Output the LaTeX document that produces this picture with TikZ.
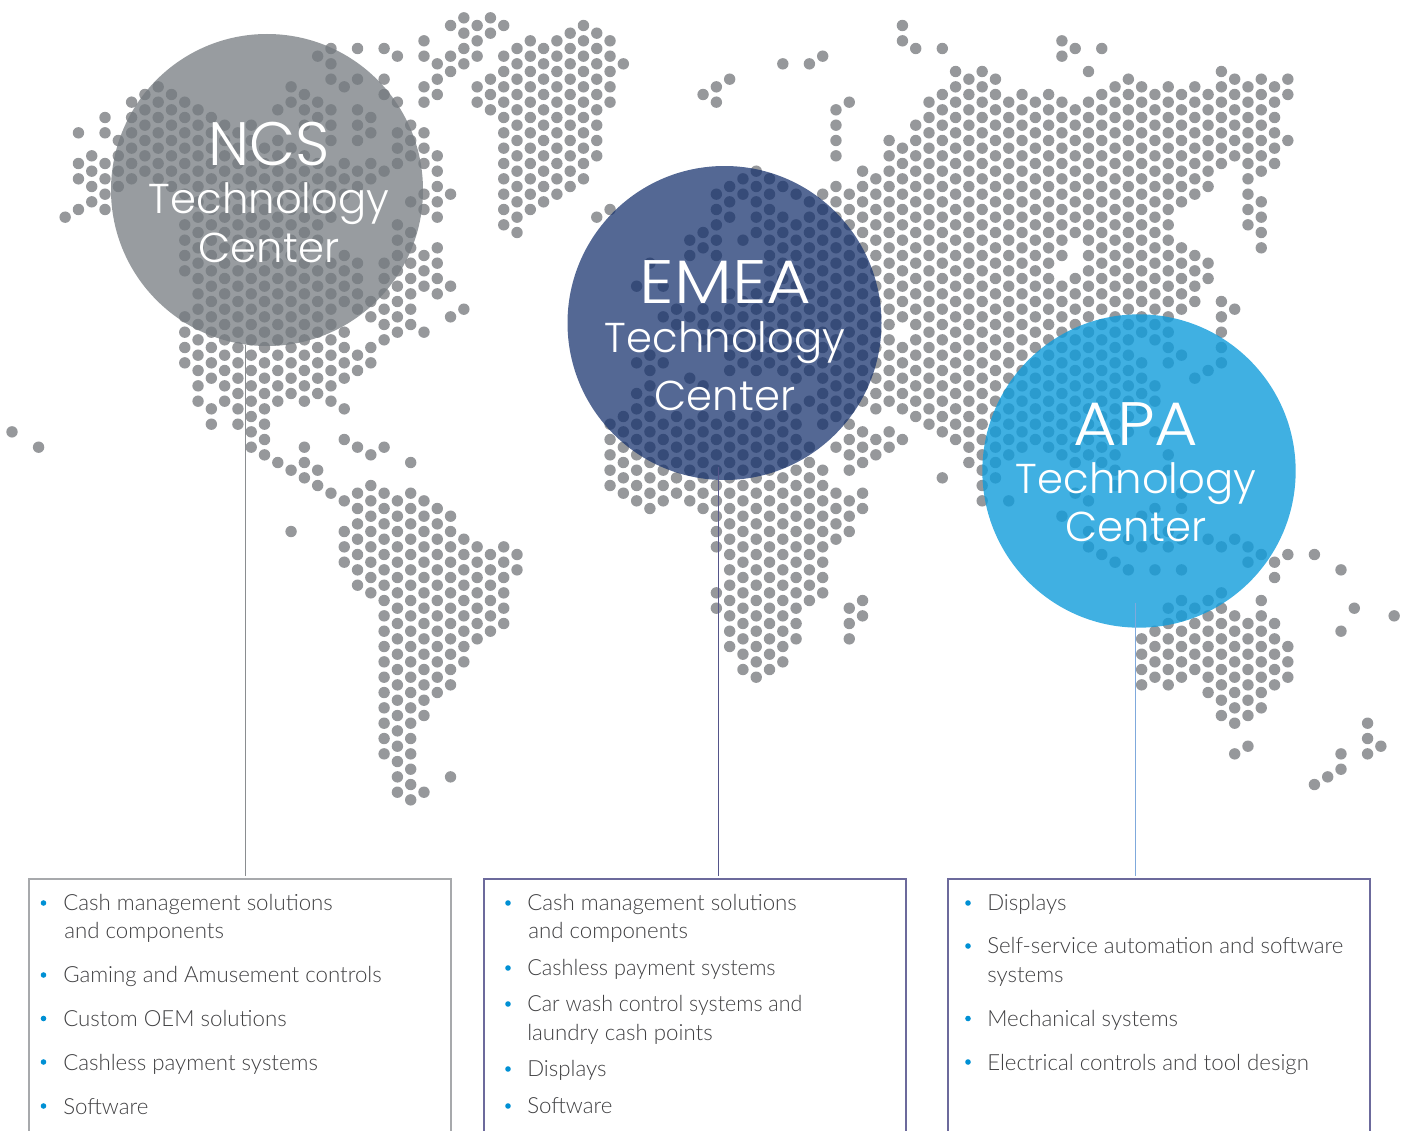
\documentclass[tikz,border=0pt]{standalone}
\usepackage{graphicx}
\usepackage{fontspec}
\newfontfamily\headf{Poppins Light}
\newfontfamily\bodyf{Lato Light}
\definecolor{dotc}{HTML}{96989B}
\definecolor{ncsc}{RGB}{116,122,127}
\definecolor{emeac}{RGB}{18,46,107}
\definecolor{apac}{RGB}{16,156,219}
\definecolor{txtc}{HTML}{404042}
\definecolor{bul}{HTML}{0090D4}
\definecolor{boxgray}{HTML}{A7A9AC}
\definecolor{boxblue}{HTML}{6C6A9C}
\definecolor{lngray}{HTML}{8A8D90}
\definecolor{lnblue}{HTML}{55558A}
\definecolor{lnsky}{HTML}{7FA9DC}
\newcommand\C[2]{\foreach \a/\b in {#2}{%
  \pgfmathtruncatemacro\nn{(\b-\a)/2}%
  \foreach \i in {0,...,\nn}{\fill[dotc] ({12+13.29*#1},{2.5+7.667*(\a+2*\i)}) circle[radius=5.7];}}}
\tikzset{
  hub/.style={circle,minimum size=#1,inner sep=0pt},
  big/.style={text=white,font=\headf\fontsize{46}{46}\selectfont,anchor=base},
  mid/.style={text=white,font=\headf\fontsize{31.3}{34}\selectfont,anchor=base},
  item/.style={anchor=base west,text=txtc,font=\bodyf\fontsize{16.7}{20}\selectfont,inner sep=0pt},
  bull/.style={circle,fill=bul,minimum size=4.2pt,inner sep=0pt}
}
\begin{document}
\begin{tikzpicture}[x=0.75pt,y=-0.75pt]
\useasboundingbox (0,0) rectangle (1404,1131);
\C{0}{56}\C{2}{58}\C{4}{28}\C{5}{17,21/23,27}\C{6}{20/26}\C{7}{15/17,21/27}\C{8}{18/24}
\C{9}{13/23}\C{10}{12/22}\C{11}{11/23}\C{12}{12/24}\C{13}{13/25,29/35,41/47}\C{14}{14/52}
\C{15}{15/49,53/55}\C{16}{16/52}\C{17}{17/55}\C{18}{16/58}\C{19}{19/59}\C{20}{14,18/52,60}
\C{21}{11/13,19/51,61,69}\C{22}{12/16,20/52,58/62}\C{23}{7,13/15,21/31,35/51,61/63}
\C{24}{6/10,14/18,22/28,34/52,64}\C{25}{11,21/25,33/39,43/49,53,57,65,69/73}
\C{26}{6,10,14/18,22/24,34/40,46/48,58,64/76}\C{27}{15/17,21/23,39/41,45/47,59,63/77}
\C{28}{6,10/12,22,34/44,58,64/98}\C{29}{7,13,17/21,29/43,65/103}\C{30}{16/20,26,30/42,60,64/104}
\C{31}{5/7,11/13,17/21,25/27,33/37,43,65/93,103}\C{32}{8/12,20/28,32/38,66/90}
\C{33}{3,7/9,25,37,41,67/89,101}\C{34}{2/8,40,70/86}\C{35}{3/7,11/13,71/83}\C{36}{2/4,10/14,72/82}
\C{37}{3,7/29,71/81}\C{38}{6/30,72/74}\C{39}{5/27}\C{40}{6/26}\C{41}{5/25}\C{42}{4/24}\C{43}{3/23}
\C{44}{4/20,28}\C{45}{5/13,27,55/63}\C{46}{8,54/64}\C{47}{37,47,51/65}\C{48}{34,46,48,50/66}
\C{49}{37,41,47,55/65}\C{50}{40/42,54/64}\C{51}{31/33,41,49,55/65}\C{52}{12,30/32,40/44,50,54/66}
\C{53}{11/13,25/33,41/43,55/71,77/79}\C{54}{10,24/28,38/48,54/84}\C{55}{23/25,31,39/47,55/87}
\C{56}{22/30,38/48,54/88}\C{57}{23/47,55/87}\C{58}{8,24,28/48,54/86}\C{59}{25,29/49,53/83}
\C{60}{8,26/48,52,58/78}\C{61}{7,25/55,61/77}\C{62}{14/20,24/54,58,64/70}\C{63}{13,25/61,65/69,79/83}
\C{64}{22/52,56/60,64/66,78/80}\C{65}{23/53,57/59}\C{66}{18/52,56/58}\C{67}{3/5,19/41,45/53,57}
\C{68}{6,16/54}\C{69}{13/55}\C{70}{6,12/56,62}\C{71}{9/57}\C{72}{10/60}\C{73}{9/65}\C{74}{10/62}
\C{75}{13/59,65}\C{76}{12/58}\C{77}{13/57}\C{78}{12/58}\C{79}{5/7,13/33,37/59,67}\C{80}{6,14/30,36/60,64}
\C{81}{9,13/59,65,69/71}\C{82}{6,12/60,72}\C{83}{11/63,73}\C{84}{10/56,70,74}
\C{85}{11/43,47/53,67,71,83/89}\C{86}{12/44,50/52,56,66,70,74,82/88}\C{87}{11/47,59/61,69/71,79/89}
\C{88}{12/26,32/40,46,64/66,70,74,78/88}\C{89}{11/25,33/39,49,79/87}\C{90}{12/24,34/36,48,70,78/90}
\C{91}{9/21,39/47,71,77/93}\C{92}{10/20,40,70,80/94,98}\C{93}{11/29,71/73,81/93,97}
\C{94}{10/22,26/32,72,78/92}\C{95}{11/21,73/75,81/89}\C{96}{10/12,18,72,84/88}\C{98}{72,102}
\C{99}{101}\C{100}{74,82,98/100}\C{101}{79}\C{102}{94/98}\C{103}{97}\C{104}{80}
%
\node[hub=234pt,fill=ncsc,fill opacity=.74] (ncs) at (267,190) {};
\node[hub=235.5pt,fill=emeac,fill opacity=.72] (emea) at (724.5,323) {};
\node[hub=235pt,fill=apac,fill opacity=.8] (apa) at (1139,471) {};
%
\node[big] (n1) at (269,166) {\scalebox{.975}[1]{NCS}};
\node[mid] (n2) at (269,213) {Technology};
\node[mid] (n3) at (269,262) {Center};
\node[big] (e1) at (725.5,303) {\scalebox{1.12}[1]{EMEA}};
\node[mid] (e2) at (725,352) {Technology};
\node[mid] (e3) at (725,410) {Center};
\node[big] (a1) at (1136,445) {\scalebox{1.09}[1]{APA}};
\node[mid] (a2) at (1136,493) {Technology};
\node[mid] (a3) at (1136,541) {Center};
%
\coordinate (ls1) at (245,345); \coordinate (le1) at (245,876);
\coordinate (ls2) at (718,467); \coordinate (le2) at (718,876);
\coordinate (ls3) at (1135,603); \coordinate (le3) at (1135,876);
\draw[lngray,line width=.7pt] (ls1) -- (le1);
\draw[lnblue,line width=.7pt] (ls2) -- (le2);
\draw[lnsky,line width=.7pt] (ls3) -- (le3);
%
\draw[boxgray,line width=.9pt] (29,1135) -- (29,879) -- (451,879) -- (451,1135);
\draw[boxblue,line width=.9pt] (484,1135) -- (484,879) -- (906,879) -- (906,1135);
\draw[boxblue,line width=.9pt] (948,1135) -- (948,879) -- (1370,879) -- (1370,1135);
%
\node[bull] (b11) at (43.5,903) {}; \node[item] (t11) at (63,910) {Cash management solutions};
\node[item] (t12) at (64,938) {and components};
\node[bull] (b12) at (43.5,975) {}; \node[item] (t13) at (63,982) {Gaming and Amusement controls};
\node[bull] (b13) at (43.5,1018.5) {}; \node[item] (t14) at (63,1026) {Custom OEM solutions};
\node[bull] (b14) at (43.5,1062) {}; \node[item] (t15) at (63,1070) {Cashless payment systems};
\node[bull] (b15) at (43.5,1106) {}; \node[item] (t16) at (63,1114) {Software};
%
\node[bull] (b21) at (508,903) {}; \node[item] (t21) at (527,910) {Cash management solutions};
\node[item] (t22) at (528,938) {and components};
\node[bull] (b22) at (508,968) {}; \node[item] (t23) at (527,975) {\scalebox{.975}[1]{Cashless payment systems}};
\node[bull] (b23) at (508,1004) {}; \node[item] (t24) at (527,1011) {\scalebox{.962}[1]{Car wash control systems and}};
\node[item] (t25) at (527,1040) {laundry cash points};
\node[bull] (b24) at (508,1069) {}; \node[item] (t26) at (527,1076) {Displays};
\node[bull] (b25) at (508,1106) {}; \node[item] (t27) at (527,1113) {Software};
%
\node[bull] (b31) at (968,903) {}; \node[item] (t31) at (987,910) {Displays};
\node[bull] (b32) at (968,946) {}; \node[item] (t32) at (987,953) {Self-service automation and software};
\node[item] (t33) at (987,982) {systems};
\node[bull] (b33) at (968,1018.5) {}; \node[item] (t34) at (987,1026) {Mechanical systems};
\node[bull] (b34) at (968,1062) {}; \node[item] (t35) at (987,1070) {Electrical controls and tool design};
\end{tikzpicture}
\end{document}
